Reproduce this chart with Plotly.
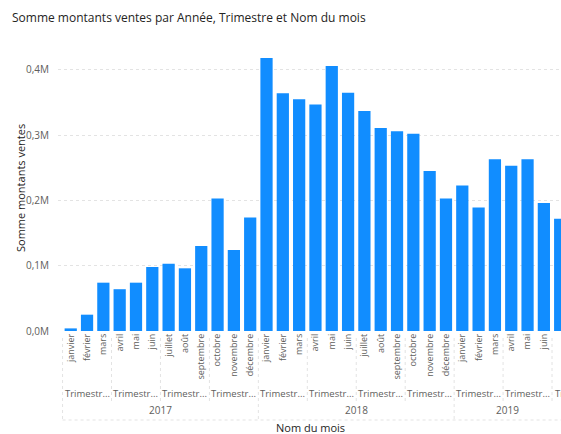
import plotly.graph_objects as go

# Monthly sales totals (in millions), January 2017 through July 2019
years = ["2017", "2018", "2019"]
quarters = ["Trimestre 1", "Trimestre 2", "Trimestre 3", "Trimestre 4"]
months = ["janvier", "février", "mars", "avril", "mai", "juin",
          "juillet", "août", "septembre", "octobre", "novembre", "décembre"]

sales_2017 = [0.004, 0.025, 0.074, 0.064, 0.074, 0.098,
              0.103, 0.096, 0.130, 0.203, 0.124, 0.174]
sales_2018 = [0.418, 0.364, 0.355, 0.347, 0.406, 0.365,
              0.337, 0.311, 0.306, 0.302, 0.245, 0.203]
sales_2019 = [0.223, 0.189, 0.263, 0.253, 0.263, 0.196, 0.172]

values = sales_2017 + sales_2018 + sales_2019
month_labels = [months[i % 12] for i in range(len(values))]
idx = list(range(len(values)))

BAR = "#118DFF"
TXT = "#605E5C"
GRID = "#E3E3E3"
FONT = "Open Sans, Segoe UI, sans-serif"

x_min, x_max = -0.78, 30.05
plot_bottom_px, plot_top_px = 331, 50
plot_h = plot_bottom_px - plot_top_px


def py(px):
    """Convert a page pixel row into paper y coordinates."""
    return (plot_bottom_px - px) / plot_h


fig = go.Figure(go.Bar(
    x=idx, y=[v * 1e6 for v in values],
    marker=dict(color=BAR, line=dict(width=0)),
    hoverinfo="skip",
))

shapes = []
annotations = []

# Quarter and year groups below the month labels
n_years = (len(values) + 11) // 12
for yi in range(n_years):
    y_start = yi * 12 - 0.5
    y_end = min(yi * 12 + 11.5, len(values) - 0.5)
    vis_lo, vis_hi = max(y_start, x_min), min(y_end, x_max)
    annotations.append(dict(
        x=(vis_lo + vis_hi) / 2, y=py(410), xref="x", yref="paper",
        text=years[yi], showarrow=False,
        font=dict(size=10, color=TXT, family=FONT),
        xanchor="center", yanchor="middle"))
    shapes.append(dict(type="line", xref="x", yref="paper",
                       x0=y_start, x1=y_start, y0=py(338), y1=py(420),
                       line=dict(color=GRID, width=1, dash="dot")))
    for qi in range(4):
        q_start = yi * 12 + qi * 3 - 0.5
        if q_start > len(values) - 0.5:
            break
        q_end = min(q_start + 3, len(values) - 0.5)
        vis_lo, vis_hi = max(q_start, x_min), min(q_end, x_max)
        label = quarters[qi][:8] + "..."
        if vis_hi - vis_lo >= 2:
            annotations.append(dict(
                x=(vis_lo + vis_hi) / 2, y=py(393), xref="x", yref="paper",
                text=label, showarrow=False,
                font=dict(size=9.5, color=TXT, family=FONT),
                xanchor="center", yanchor="middle"))
        else:
            annotations.append(dict(
                x=vis_lo + 0.05, y=py(393), xref="x", yref="paper",
                text=label, showarrow=False,
                font=dict(size=9.5, color=TXT, family=FONT),
                xanchor="left", yanchor="middle"))
        if qi > 0:
            shapes.append(dict(type="line", xref="x", yref="paper",
                               x0=q_start, x1=q_start, y0=py(338), y1=py(403),
                               line=dict(color=GRID, width=1, dash="dot")))

shapes.append(dict(type="line", xref="x", yref="paper",
                   x0=-0.5, x1=x_max, y0=py(420), y1=py(420),
                   line=dict(color=GRID, width=1, dash="dot")))

# Axis titles
annotations.append(dict(
    x=(310 - 58) / 503, y=py(428), xref="paper", yref="paper",
    text="Nom du mois", showarrow=False,
    font=dict(size=11, color="#252423", family=FONT),
    xanchor="center", yanchor="middle"))
annotations.append(dict(
    x=(20 - 58) / 503, y=py(188), xref="paper", yref="paper",
    text="Somme montants ventes", showarrow=False, textangle=-90,
    font=dict(size=11, color="#252423", family=FONT),
    xanchor="center", yanchor="middle"))

tick_vals = [0, 1e5, 2e5, 3e5, 4e5]
tick_text = ["0,0M", "0,1M", "0,2M", "0,3M", "0,4M"]

fig.update_layout(
    width=561, height=434,
    margin=dict(l=58, r=0, t=plot_top_px, b=434 - plot_bottom_px, pad=0),
    paper_bgcolor="white", plot_bgcolor="white",
    bargap=0.25,
    showlegend=False,
    title=dict(text="Somme montants ventes par Année, Trimestre et Nom du mois",
               x=12 / 561, xref="container", xanchor="left",
               y=1 - 18 / 434, yref="container", yanchor="middle",
               font=dict(size=12, color="#252423", family=FONT)),
    xaxis=dict(range=[x_min, x_max], tickvals=idx, ticktext=month_labels,
               tickangle=-90, tickfont=dict(size=9, color=TXT, family=FONT),
               showgrid=False, zeroline=False, showline=False, ticks="",
               fixedrange=True),
    yaxis=dict(range=[0, plot_h / 653 * 1e6], tickvals=tick_vals,
               ticktext=tick_text,
               tickfont=dict(size=10, color=TXT, family=FONT),
               showgrid=True, gridcolor=GRID, griddash="dot", gridwidth=1,
               zeroline=False, showline=False, ticks="", ticklabelstandoff=8,
               fixedrange=True),
    shapes=shapes,
    annotations=annotations,
)

fig.write_html("out.html", config={"displayModeBar": False})
